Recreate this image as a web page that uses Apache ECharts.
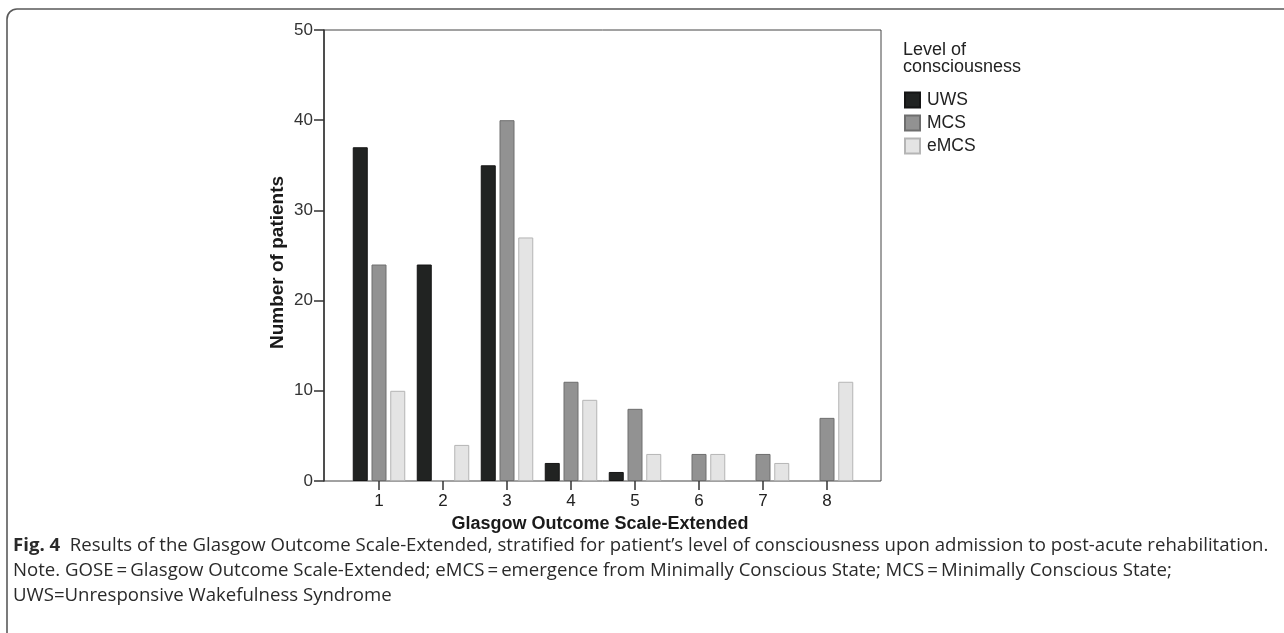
<!DOCTYPE html>
<html>
<head>
<meta charset="utf-8">
<script src="https://cdn.jsdelivr.net/npm/echarts@6/dist/echarts.min.js"></script>
<style>
  html, body { margin: 0; padding: 0; background: #fff; }
  #chart { width: 1284px; height: 633px; }
</style>
</head>
<body>
<div id="chart"></div>
<script>
const categories = ['1', '2', '3', '4', '5', '6', '7', '8'];
const seriesNames = ['UWS', 'MCS', 'eMCS'];
const uws  = [37, 24, 35, 2, 1, 0, 0, 0];
const mcs  = [24, 0, 40, 11, 8, 3, 3, 7];
const emcs = [10, 4, 27, 9, 3, 3, 2, 11];
const yTicks = [0, 10, 20, 30, 40, 50];

const seriesValues = [uws, mcs, emcs];
const fills = ['#212322', '#929292', '#e4e4e4'];
const borders = ['#151515', '#6e6e6e', '#b5b5b5'];

const chart = echarts.init(document.getElementById('chart'), null, { renderer: 'canvas' });

const labelFont = 'Liberation Sans, Arial, sans-serif';
const captionFont = 'Open Sans, Noto Sans, sans-serif';

const option = {
  animation: false,
  backgroundColor: '#ffffff',
  graphic: [{
    type: 'rect',
    shape: { x: 7, y: 9, width: 1400, height: 800, r: 10 },
    style: { fill: 'none', stroke: '#5a5a5a', lineWidth: 1.6 },
    silent: true
  }],
  title: [{
    text: 'Level of\nconsciousness',
    left: 903, top: 42, padding: 0,
    textStyle: { fontFamily: labelFont, fontSize: 18, fontWeight: 'normal', color: '#222', lineHeight: 17 }
  }, {
    text: '{b|Fig. 4}  Results of the Glasgow Outcome Scale-Extended, stratified for patient\u2019s level of consciousness upon admission to post-acute rehabilitation.\nNote. GOSE\u2009=\u2009Glasgow Outcome Scale-Extended; eMCS\u2009=\u2009emergence from Minimally Conscious State; MCS\u2009=\u2009Minimally Conscious State;\nUWS=Unresponsive Wakefulness Syndrome',
    left: 13, top: 533, padding: 0,
    textStyle: {
      fontFamily: captionFont, fontSize: 18.6, fontWeight: 'normal', color: '#2a2a2a', lineHeight: 25,
      rich: { b: { fontFamily: captionFont, fontSize: 18.6, fontWeight: 'bold', color: '#2a2a2a', lineHeight: 25 } }
    }
  }],
  legend: {
    data: seriesNames,
    orient: 'vertical',
    left: 904, top: 91, padding: 0,
    itemWidth: 15, itemHeight: 15, itemGap: 5,
    icon: 'rect',
    textStyle: { fontFamily: labelFont, fontSize: 17.5, color: '#222', lineHeight: 15, padding: [0, 0, 0, 2] }
  },
  grid: [
    { left: 324, right: 403, top: 30, bottom: 152, show: true, borderColor: '#444', borderWidth: 1, backgroundColor: 'transparent' },
    { left: 347, right: 425, top: 30, bottom: 152 }
  ],
  xAxis: [
    { gridIndex: 0, type: 'category', data: categories, show: false },
    {
      gridIndex: 1, type: 'category', data: categories,
      axisLine: { show: false },
      axisTick: { show: true, alignWithLabel: true, length: 9, lineStyle: { color: '#333', width: 1.5 } },
      axisLabel: { fontFamily: labelFont, fontSize: 17, color: '#222', margin: 12 },
      name: 'Glasgow Outcome Scale-Extended',
      nameLocation: 'middle', nameGap: 32,
      nameTextStyle: { fontFamily: labelFont, fontSize: 18, fontWeight: 'bold', color: '#1a1a1a', padding: [0, 6, 0, 0] }
    }
  ],
  yAxis: [
    {
      gridIndex: 0, type: 'value', min: yTicks[0], max: yTicks[yTicks.length - 1], interval: 10,
      axisLine: { show: true, lineStyle: { color: '#333', width: 1.5 } },
      axisTick: { show: true, length: 10, lineStyle: { color: '#333', width: 1.5 } },
      axisLabel: { fontFamily: labelFont, fontSize: 17, color: '#333', margin: 11 },
      splitLine: { show: false },
      name: 'Number of patients',
      nameLocation: 'middle', nameGap: 37,
      nameTextStyle: { fontFamily: labelFont, fontSize: 19, fontWeight: 'bold', color: '#1a1a1a', padding: [0, 14, 0, 0] }
    },
    { gridIndex: 1, type: 'value', min: yTicks[0], max: yTicks[yTicks.length - 1], show: false }
  ],
  series: seriesNames.map((name, i) => ({
    name: name,
    type: 'bar',
    xAxisIndex: 1, yAxisIndex: 1,
    data: seriesValues[i].map(v => (v === 0 ? '-' : v)),
    barWidth: 15,
    barGap: '25%',
    itemStyle: { color: fills[i], borderColor: borders[i], borderWidth: 1 }
  }))
};

chart.setOption(option);
</script>
</body>
</html>
